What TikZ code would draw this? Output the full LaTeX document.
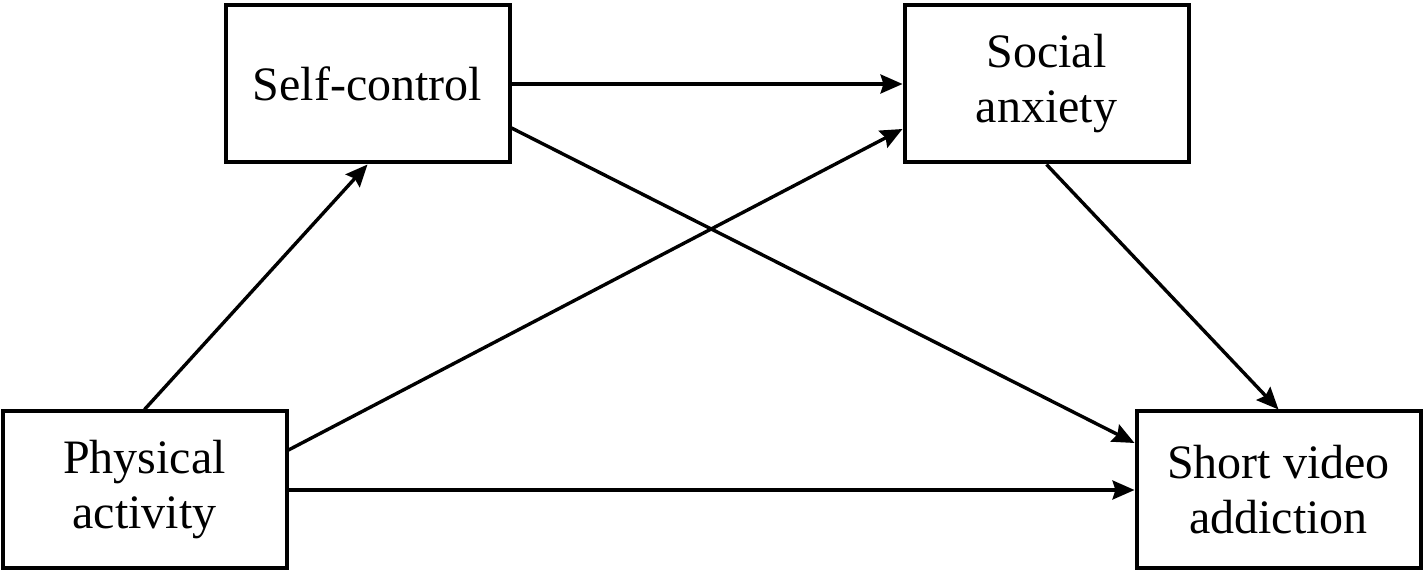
\documentclass[tikz,border=0pt]{standalone}
\usepackage{fontspec}
\setmainfont{Liberation Serif}
\usetikzlibrary{arrows.meta}
\tikzset{
  box/.style={draw, line width=2pt, minimum width=142pt, minimum height=78.5pt, align=center, inner sep=0pt,
    font=\fontsize{24}{27.5}\selectfont},
  arr/.style={line width=1.7pt, -{Stealth[length=11pt,width=9.5pt,inset=1.5pt]}}
}
\begin{document}
\begin{tikzpicture}[x=0.5pt,y=-0.5pt]
\useasboundingbox (0,0) rectangle (1425,571);
\node[box] (sc) at (367.5,84) {Self-control};
\node[box] (sa) at (1046.5,84) {Social\\anxiety};
\node[box] (pa) at (144.5,490) {Physical\\activity};
\node[box] (sva) at (1278.5,490) {Short video\\addiction};
\draw[arr] (pa.north) -- (sc.south);
\draw[arr] ([yshift=20pt]pa.east) -- ([yshift=-22.5pt]sa.west);
\draw[arr] (pa.east) -- (sva.west);
\draw[arr] (sc.east) -- (sa.west);
\draw[arr] ([yshift=-22pt]sc.east) -- ([yshift=23.5pt]sva.west);
\draw[arr] (sa.south) -- (sva.north);
\end{tikzpicture}
\end{document}
